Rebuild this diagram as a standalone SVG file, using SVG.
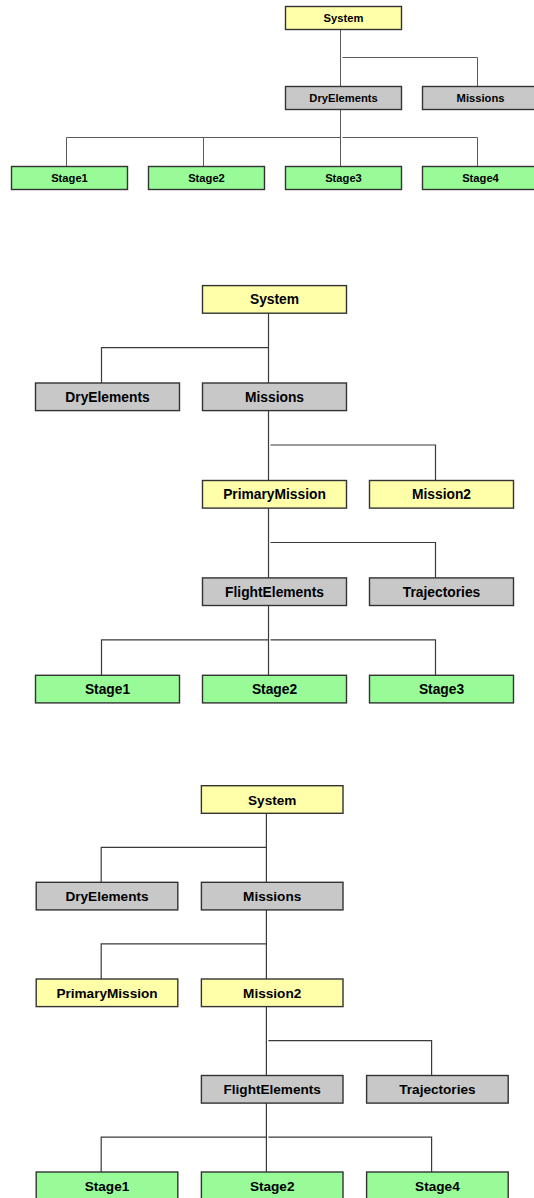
<svg xmlns="http://www.w3.org/2000/svg" width="534" height="1198" viewBox="0 0 534 1198">
  <style>
    .box rect { stroke: #333333; stroke-width: 1.4; }
    .sys rect, .mis rect { fill: #ffffaa; }
    .grp rect { fill: #c8c8c8; }
    .stg rect { fill: #98fb98; }
    text { font-family: "Liberation Sans", Arial, Helvetica, sans-serif; font-weight: bold; fill: #000000; text-anchor: middle; }
    .s1 text { font-size: 11.2px; }
    .s2 text { font-size: 13.8px; }
    .s3 text { font-size: 13.6px; }
    .wire { fill: none; stroke: #3a3a3a; stroke-width: 1.2; }
    .wire-small { fill: none; stroke: #5a5a5a; stroke-width: 1; }
  </style>
  <rect width="534" height="1198" fill="#ffffff"/>

  <!-- ===== Tree 1: System with DryElements holding the stages ===== -->
  <g id="t1-connectors">
    <path class="wire-small" d="M340.5,29.5 V86.5 M342.5,57.5 H477.5 V86.5"/>
    <path class="wire-small" d="M340.5,109.5 V166.5 M340.5,137.5 H66.5 V166.5 M203.5,137.5 V166.5 M342.5,137.5 H477.5 V166.5"/>
  </g>
  <g class="s1">
    <g id="t1-system" class="box sys"><rect x="285.5" y="6.5" width="116" height="23"/><text x="343.5" y="22.3">System</text></g>
    <g id="t1-dryelements" class="box grp"><rect x="285.5" y="86.5" width="116" height="23"/><text x="343.5" y="102.3">DryElements</text></g>
    <g id="t1-missions" class="box grp"><rect x="422.5" y="86.5" width="116" height="23"/><text x="480.5" y="102.3">Missions</text></g>
    <g id="t1-stage1" class="box stg"><rect x="11.5" y="166.5" width="116" height="23"/><text x="69.5" y="182.3">Stage1</text></g>
    <g id="t1-stage2" class="box stg"><rect x="148.5" y="166.5" width="116" height="23"/><text x="206.5" y="182.3">Stage2</text></g>
    <g id="t1-stage3" class="box stg"><rect x="285.5" y="166.5" width="116" height="23"/><text x="343.5" y="182.3">Stage3</text></g>
    <g id="t1-stage4" class="box stg"><rect x="422.5" y="166.5" width="116" height="23"/><text x="480.5" y="182.3">Stage4</text></g>
  </g>

  <!-- ===== Tree 2: Missions / PrimaryMission branch ===== -->
  <g id="t2-connectors">
    <path class="wire" d="M268.5,313.2 V383 M268.5,347.6 H101.5 V383"/>
    <path class="wire" d="M268.5,410.6 V480.5 M270.5,445 H435.5 V480.5"/>
    <path class="wire" d="M268.5,508.1 V577.9 M270.5,542.5 H435.5 V577.9"/>
    <path class="wire" d="M268.5,605.5 V675.3 M268.5,639.9 H101.5 V675.3 M270.5,639.9 H435.5 V675.3"/>
  </g>
  <g class="s2">
    <g id="t2-system" class="box sys"><rect x="202.5" y="285.6" width="144" height="27.6"/><text x="274.5" y="304.4">System</text></g>
    <g id="t2-dryelements" class="box grp"><rect x="35.5" y="383" width="144" height="27.6"/><text x="107.5" y="401.8">DryElements</text></g>
    <g id="t2-missions" class="box grp"><rect x="202.5" y="383" width="144" height="27.6"/><text x="274.5" y="401.8">Missions</text></g>
    <g id="t2-primarymission" class="box mis"><rect x="202.5" y="480.5" width="144" height="27.6"/><text x="274.5" y="499.3">PrimaryMission</text></g>
    <g id="t2-mission2" class="box mis"><rect x="369.5" y="480.5" width="144" height="27.6"/><text x="441.5" y="499.3">Mission2</text></g>
    <g id="t2-flightelements" class="box grp"><rect x="202.5" y="577.9" width="144" height="27.6"/><text x="274.5" y="596.7">FlightElements</text></g>
    <g id="t2-trajectories" class="box grp"><rect x="369.5" y="577.9" width="144" height="27.6"/><text x="441.5" y="596.7">Trajectories</text></g>
    <g id="t2-stage1" class="box stg"><rect x="35.5" y="675.3" width="144" height="27.6"/><text x="107.5" y="694.1">Stage1</text></g>
    <g id="t2-stage2" class="box stg"><rect x="202.5" y="675.3" width="144" height="27.6"/><text x="274.5" y="694.1">Stage2</text></g>
    <g id="t2-stage3" class="box stg"><rect x="369.5" y="675.3" width="144" height="27.6"/><text x="441.5" y="694.1">Stage3</text></g>
  </g>

  <!-- ===== Tree 3: Missions / Mission2 branch ===== -->
  <g id="t3-connectors">
    <path class="wire" d="M266.4,813.3 V882.3 M266.4,847.3 H101.2 V882.3"/>
    <path class="wire" d="M266.4,909.9 V979 M266.4,943.9 H101.2 V979"/>
    <path class="wire" d="M266.4,1006.6 V1075.5 M268.4,1040.6 H431.6 V1075.5"/>
    <path class="wire" d="M266.4,1103.1 V1172 M266.4,1137.1 H101.2 V1172 M268.4,1137.1 H431.6 V1172"/>
  </g>
  <g class="s3">
    <g id="t3-system" class="box sys"><rect x="201.4" y="785.7" width="141.6" height="27.6"/><text x="272.2" y="804.5">System</text></g>
    <g id="t3-dryelements" class="box grp"><rect x="36.2" y="882.3" width="141.6" height="27.6"/><text x="107" y="901.1">DryElements</text></g>
    <g id="t3-missions" class="box grp"><rect x="201.4" y="882.3" width="141.6" height="27.6"/><text x="272.2" y="901.1">Missions</text></g>
    <g id="t3-primarymission" class="box mis"><rect x="36.2" y="979" width="141.6" height="27.6"/><text x="107" y="997.8">PrimaryMission</text></g>
    <g id="t3-mission2" class="box mis"><rect x="201.4" y="979" width="141.6" height="27.6"/><text x="272.2" y="997.8">Mission2</text></g>
    <g id="t3-flightelements" class="box grp"><rect x="201.4" y="1075.5" width="141.6" height="27.6"/><text x="272.2" y="1094.3">FlightElements</text></g>
    <g id="t3-trajectories" class="box grp"><rect x="366.6" y="1075.5" width="141.6" height="27.6"/><text x="437.4" y="1094.3">Trajectories</text></g>
    <g id="t3-stage1" class="box stg"><rect x="36.2" y="1172" width="141.6" height="27.6"/><text x="107" y="1190.8">Stage1</text></g>
    <g id="t3-stage2" class="box stg"><rect x="201.4" y="1172" width="141.6" height="27.6"/><text x="272.2" y="1190.8">Stage2</text></g>
    <g id="t3-stage4" class="box stg"><rect x="366.6" y="1172" width="141.6" height="27.6"/><text x="437.4" y="1190.8">Stage4</text></g>
  </g>
</svg>
